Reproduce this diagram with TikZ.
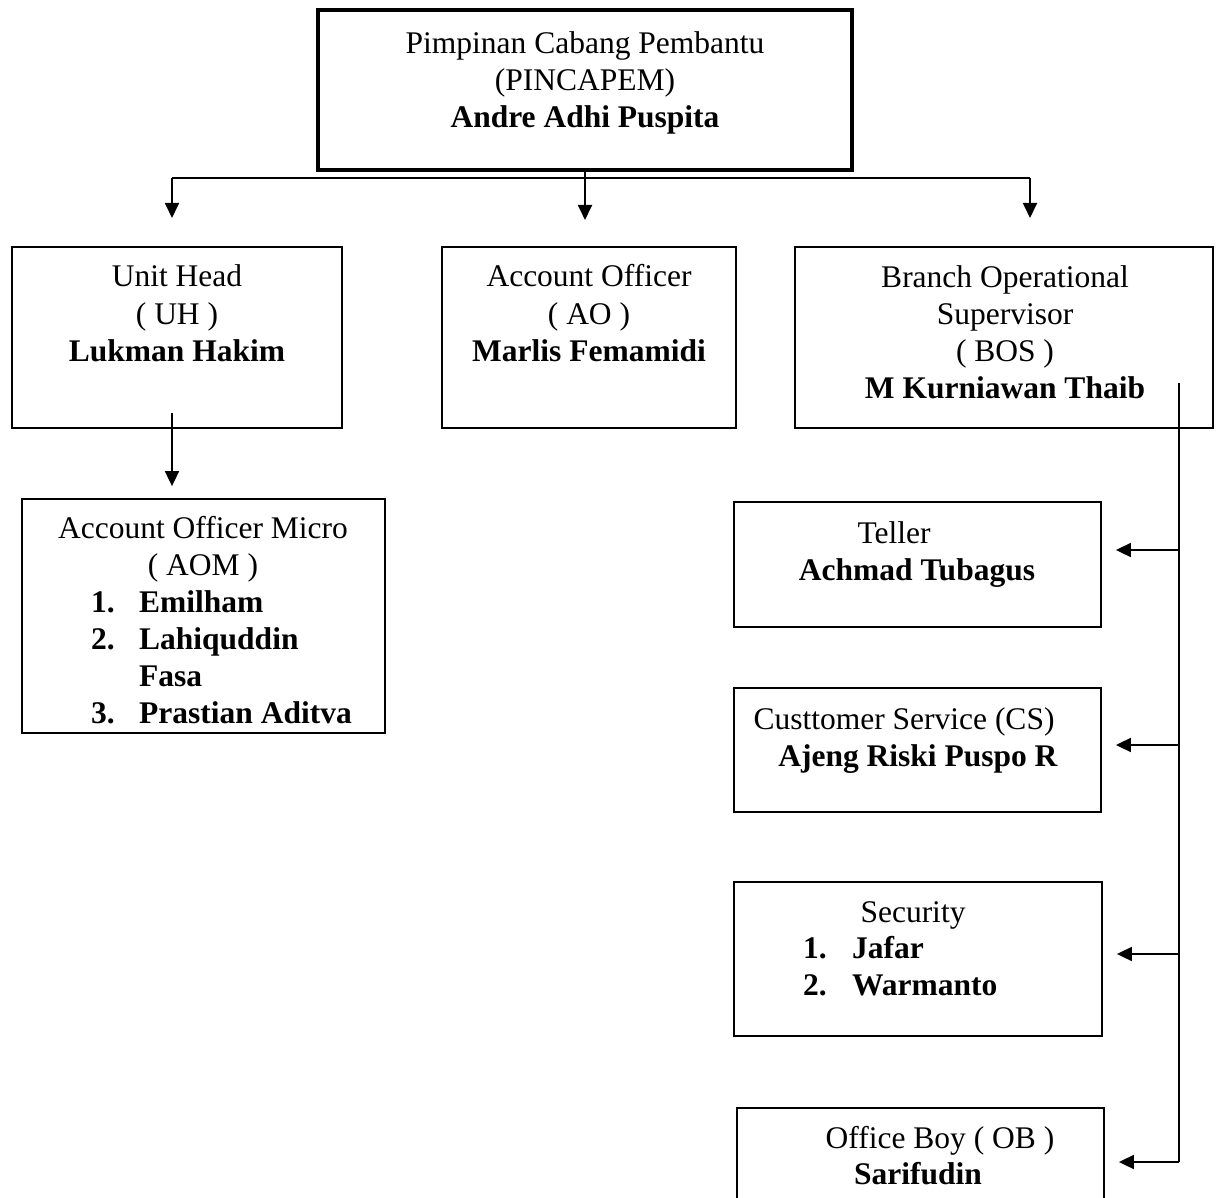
\documentclass[tikz,border=0pt]{standalone}
\usepackage{fontspec}
\setmainfont{Liberation Serif}
\usetikzlibrary{arrows.meta,positioning}

\begin{document}
\begin{tikzpicture}[x=1pt,y=-1pt,
  bx/.style={draw,line width=1.8pt,inner sep=0pt},
  lbl/.style={inner sep=0pt,align=center,anchor=base,font=\fontsize{31.5}{37}\selectfont},
  lst/.style={inner sep=0pt,align=left,anchor=base west,font=\fontsize{31.5}{37}\selectfont\bfseries},
  ln/.style={line width=1.8pt},
  arr/.style={line width=1.8pt,-{Triangle[length=15pt,width=14pt]}}]
  \clip (0,0) rectangle (1221,1198);
  % Level: head
  \node[bx,line width=4pt,minimum width=534pt,minimum height=160pt] (pin) at (585,90) {};
  \node[lbl] (pintxt) at (585,128) {Pimpinan Cabang Pembantu\\(PINCAPEM)\\\textbf{Andre Adhi Puspita}};
  % Level: units
  \node[bx,minimum width=330pt,minimum height=181pt] (uh) at (177,337.5) {};
  \node[lbl] (uhtxt) at (177,361) {Unit Head\\( UH )\\\textbf{Lukman Hakim}};
  \node[bx,minimum width=294pt,minimum height=181pt] (ao) at (589,337.5) {};
  \node[lbl] (aotxt) at (589,361) {Account Officer\\( AO )\\\textbf{Marlis Femamidi}};
  \node[bx,minimum width=418pt,minimum height=181pt] (bos) at (1004,337.5) {};
  \node[lbl] (bostxt) at (1005,398) {Branch Operational\\Supervisor\\( BOS )\\\textbf{M Kurniawan Thaib}};
  % AOM
  \node[bx,minimum width=363pt,minimum height=234pt] (aom) at (203.5,616) {};
  \node[lbl] (aomtxt) at (203,575) {Account Officer Micro\\( AOM )};
  \node[lst] (aomlist) at (91,723) {\makebox[48pt][l]{1.}Emilham\\\makebox[48pt][l]{2.}Lahiquddin\\\hspace*{48pt}Fasa\\\makebox[48pt][l]{3.}Prastian Aditva};
  % BOS staff
  \node[bx,minimum width=367pt,minimum height=125pt] (tel) at (917.5,564.5) {};
  \node[lbl] (teltitle) at (894,543) {Teller};
  \node[lbl] (telname) at (917,580) {\textbf{Achmad Tubagus}};
  \node[bx,minimum width=367pt,minimum height=124pt] (cs) at (917.5,750) {};
  \node[lbl] (cstitle) at (904,729) {Custtomer Service (CS)};
  \node[lbl] (csname) at (918,766) {\textbf{Ajeng Riski Puspo R}};
  \node[bx,minimum width=368pt,minimum height=154pt] (sec) at (918,959) {};
  \node[lbl] (sectitle) at (913,922) {Security};
  \node[lst] (seclist) at (803,995) {\makebox[49pt][l]{1.}Jafar\\\makebox[49pt][l]{2.}Warmanto};
  \node[bx,minimum width=367pt,minimum height=120pt] (ob) at (920.5,1168) {};
  \node[lbl] (obtitle) at (940,1148) {Office Boy ( OB )};
  \node[lbl] (obname) at (918,1184) {\textbf{Sarifudin}};
  % connectors
  \coordinate (busL) at (172,178);
  \coordinate (busR) at (1030,178);
  \draw[ln] (busL) -- (busR);
  \draw[arr] (pin.south) -- ++(0,48);
  \draw[arr] (busL) -- ++(0,40);
  \draw[arr] (busR) -- ++(0,40);
  \coordinate (uhdrop) at (172,413);
  \draw[arr,shorten >=12pt] (uhdrop) -- (uhdrop |- aom.north);
  \coordinate (trunk) at (1179,383);
  \coordinate (trunkend) at (1179,1162);
  \draw[ln] (trunk) -- (trunkend);
  \foreach \y/\n in {550/tel,745/cs,954/sec,1162/ob}{
    \coordinate (tap\n) at (1179,\y);
    \draw[arr,shorten >=14pt] (tap\n) -- (tap\n -| \n.east);
  }
\end{tikzpicture}
\end{document}
